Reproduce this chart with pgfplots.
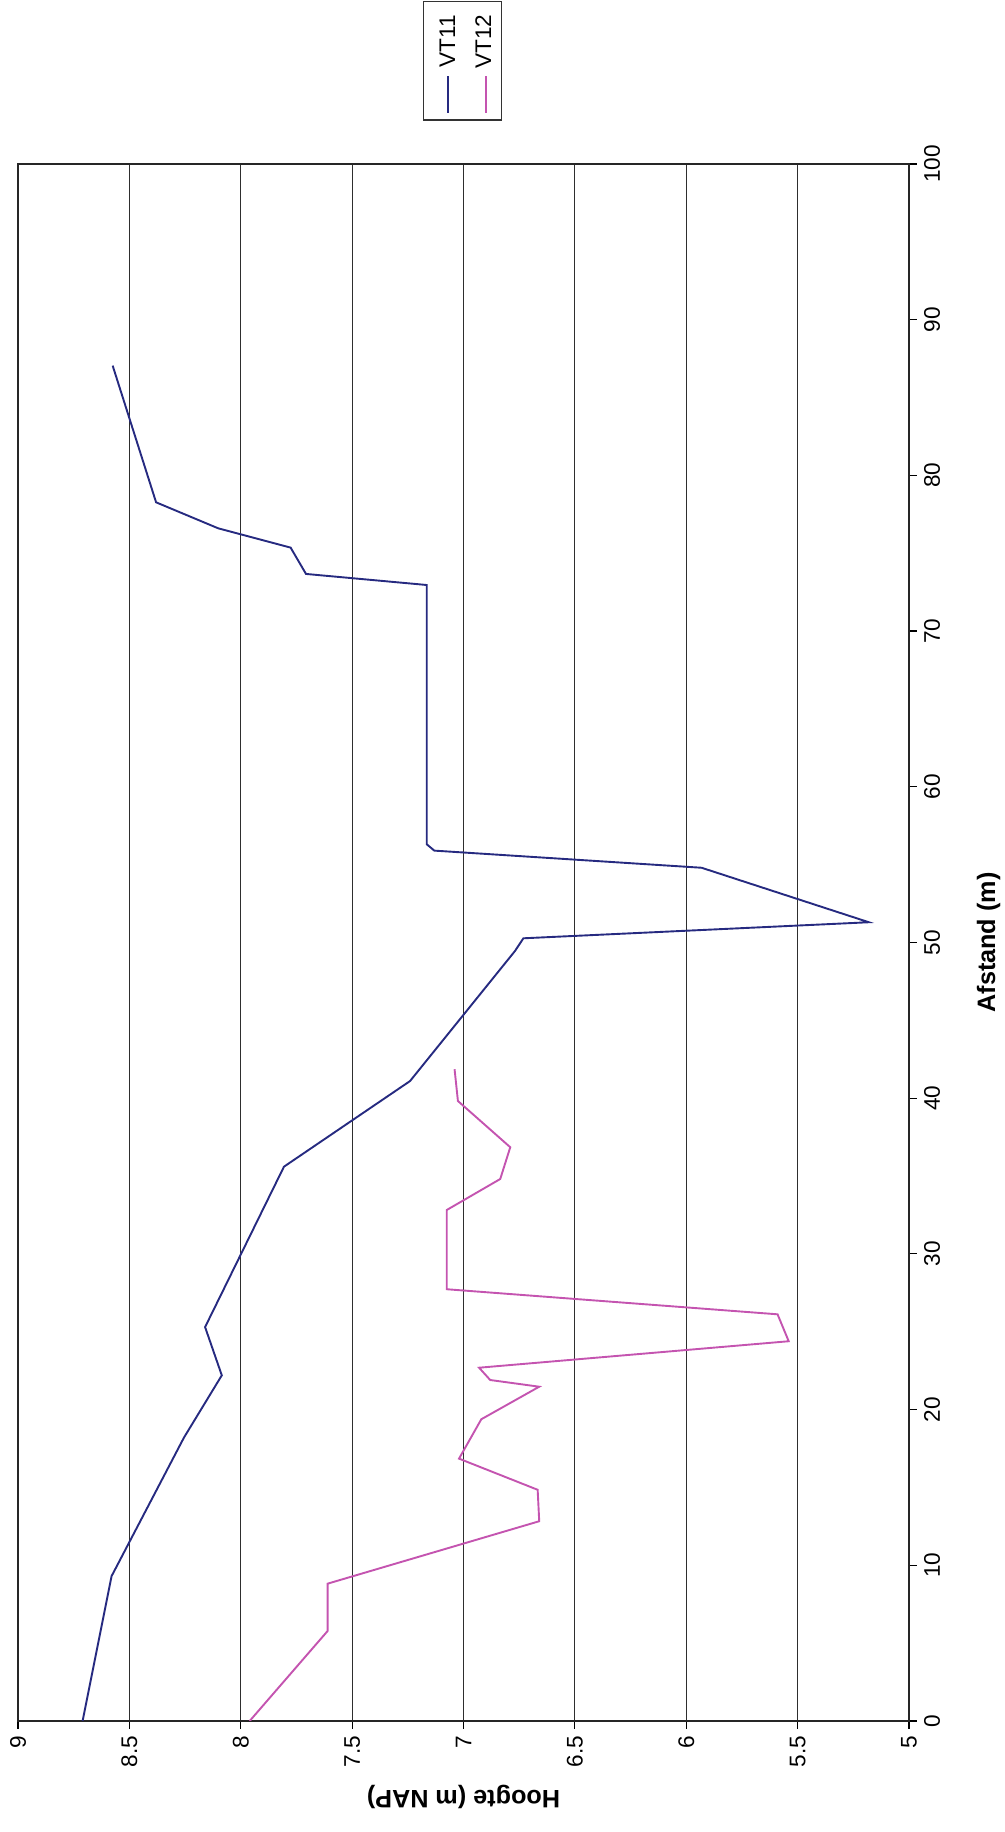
\documentclass[border=0pt]{standalone}
\usepackage{pgfplots}
\pgfplotsset{compat=1.18}
\usepackage{fontspec}
\setmainfont{Liberation Sans}
\definecolor{vtA}{RGB}{38,42,128}
\definecolor{vtB}{RGB}{196,84,176}
\begin{document}
\begin{tikzpicture}
\path[use as bounding box] (-9pt,-55.5pt) rectangle (493.5pt,860.5pt);
\begin{axis}[
 at={(0pt,0pt)}, anchor=south west,
 scale only axis, width=445.5pt, height=778.5pt,
 xmin=5, xmax=9, x dir=reverse, ymin=0, ymax=100,
 xtick={5,5.5,6,6.5,7,7.5,8,8.5,9},
 ytick={0,10,20,30,40,50,60,70,80,90,100},
 xtick pos=left, ytick pos=right, yticklabel pos=right,
 tick align=outside, major tick length=4pt,
 tick style={black, line width=0.6pt},
 xmajorgrids, grid style={black!82, line width=0.6pt},
 axis line style={black!85, line width=0.6pt},
 /pgf/number format/assume math mode=true,
 ticklabel style={font=\fontsize{11.3}{13}\selectfont},
 xticklabel style={rotate=90, anchor=east},
 yticklabel style={rotate=90, anchor=north},
]
\addplot[vtA, line width=0.95pt] coordinates {
(8.71,0) (8.58,9.3) (8.255,18.2) (8.085,22.2) (8.16,25.3) (7.806,35.6)
(7.24,41.1) (6.769,49.45) (6.731,50.27) (5.18,51.3) (5.931,54.8) (7.131,55.9)
(7.165,56.31) (7.165,72.96) (7.707,73.67) (7.776,75.36) (8.101,76.6)
(8.38,78.27) (8.575,87.05)};
\addplot[vtB, line width=0.95pt] coordinates {
(7.96,0) (7.61,5.78) (7.61,8.82) (6.66,12.83) (6.667,14.85) (7.02,16.85)
(6.92,19.38) (6.66,21.47) (6.88,21.90) (6.93,22.69) (5.54,24.39) (5.59,26.12)
(7.075,27.73) (7.075,32.82) (6.835,34.81) (6.79,36.85) (7.025,39.82) (7.04,41.86)};
\end{axis}
\node[rotate=180, font=\bfseries\fontsize{12.6}{15}\selectfont] at ([yshift=-38pt]current axis.south) {Hoogte (m NAP)};
\node[rotate=90, font=\bfseries\fontsize{12.6}{15}\selectfont] at ([xshift=39.8pt]current axis.east) {Afstand (m)};
\begin{scope}[shift={(current axis.south west)}]
\draw[black!80, line width=0.6pt] (202.65pt,800.5pt) rectangle (241.85pt,859.65pt);
\draw[vtA, line width=0.9pt] (215.15pt,804.15pt) -- (215.15pt,822.5pt);
\node[rotate=90, font=\fontsize{11.3}{13}\selectfont] at (214.65pt,839.7pt) {VT11};
\draw[vtB, line width=0.9pt] (233.85pt,804.15pt) -- (233.85pt,822.5pt);
\node[rotate=90, font=\fontsize{11.3}{13}\selectfont] at (232.65pt,839.7pt) {VT12};
\end{scope}
\end{tikzpicture}
\end{document}
